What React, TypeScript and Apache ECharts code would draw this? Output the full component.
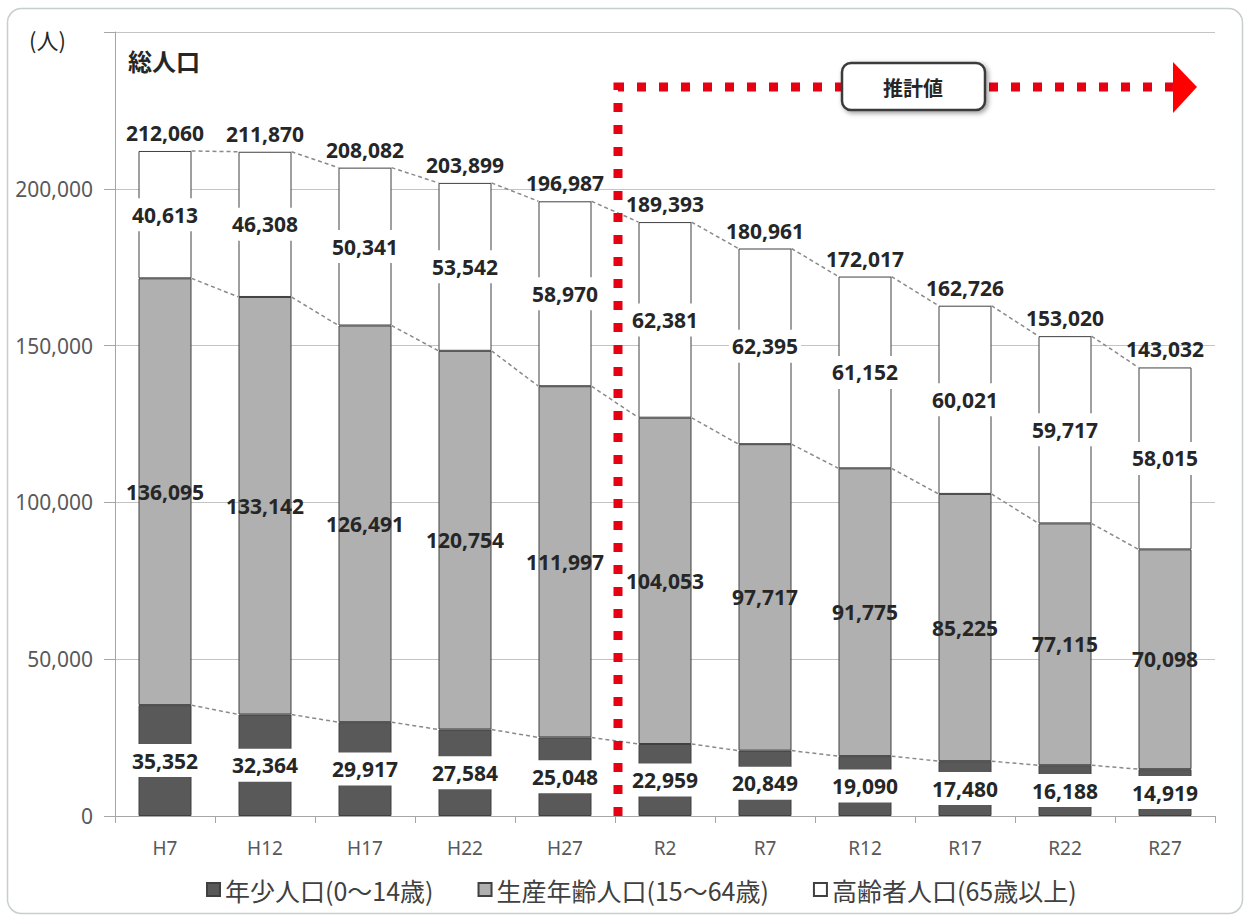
import React, { useEffect, useRef } from "react";
import * as echarts from "echarts";

const categories = ["H7", "H12", "H17", "H22", "H27", "R2", "R7", "R12", "R17", "R22", "R27"];
const young = [35352, 32364, 29917, 27584, 25048, 22959, 20849, 19090, 17480, 16188, 14919];
const working = [136095, 133142, 126491, 120754, 111997, 104053, 97717, 91775, 85225, 77115, 70098];
const elderly = [40613, 46308, 50341, 53542, 58970, 62381, 62395, 61152, 60021, 59717, 58015];
const totals = [212060, 211870, 208082, 203899, 196987, 189393, 180961, 172017, 162726, 153020, 143032];
const seriesNames = ["年少人口(0～14歳)", "生産年齢人口(15～64歳)", "高齢者人口(65歳以上)"];
const yTicks = { min: 0, max: 250000, interval: 50000, lastShown: 200000 };

const FONT = "'Noto Sans', 'Noto Sans CJK JP', sans-serif";
const CJK = "'Noto Sans CJK JP', 'Noto Sans', sans-serif";
const fmt = (v: number) => v.toLocaleString("en-US");

export default function App() {
  const ref = useRef<HTMLDivElement>(null);
  useEffect(() => {
    document.body.style.margin = "0";
    if (!ref.current) return;
    const chart = echarts.init(ref.current, null, { renderer: "svg" });

    const lvl1 = young.map((v) => v);
    const lvl2 = young.map((v, i) => v + working[i]);
    const lvl3 = young.map((v, i) => v + working[i] + elderly[i]);
    const connectorData = categories.slice(0, -1).map((_, i) => [
      i, lvl1[i], lvl2[i], lvl3[i], lvl1[i + 1], lvl2[i + 1], lvl3[i + 1],
    ]);
    const totalData = categories.map((_, i) => [i, lvl3[i], totals[i]]);

    const barLabel = (bg: string | undefined) => ({
      show: true,
      position: "inside",
      formatter: (p: any) => fmt(p.value),
      fontFamily: FONT,
      fontSize: 21,
      fontWeight: "bold",
      color: "#262626",
      backgroundColor: bg,
      padding: bg ? [6, 3] : 0,
    });

    const barBase = {
      type: "bar",
      stack: "pop",
      barWidth: 53,
      z: 2,
    };

    chart.setOption({
      animation: false,
      grid: { left: 115, right: 35, top: 32, bottom: 103, containLabel: false },
      legend: {
        data: seriesNames,
        left: 201,
        top: 872,
        icon: "rect",
        itemWidth: 13,
        itemHeight: 13,
        itemGap: 44,
        textStyle: { fontFamily: CJK, fontSize: 25, color: "#404040" },
      },
      xAxis: {
        type: "category",
        data: categories,
        boundaryGap: true,
        axisLine: { show: true, lineStyle: { color: "#a6a6a6", width: 1 } },
        axisTick: { show: true, length: 7, interval: 0, lineStyle: { color: "#a6a6a6" } },
        axisLabel: { fontFamily: FONT, fontSize: 19, color: "#595959", margin: 22 },
      },
      yAxis: {
        type: "value",
        min: yTicks.min,
        max: yTicks.max,
        interval: yTicks.interval,
        axisLine: { show: true, lineStyle: { color: "#a6a6a6", width: 1 } },
        axisTick: { show: true, length: 11, lineStyle: { color: "#a6a6a6" } },
        axisLabel: {
          fontFamily: FONT,
          fontSize: 21,
          color: "#595959",
          margin: 22,
          formatter: (v: number) => (v > yTicks.lastShown ? "" : fmt(v)),
        },
        splitLine: { show: true, lineStyle: { color: "#c4c4c4", width: 1 } },
      },
      series: [
        {
          ...barBase,
          name: seriesNames[0],
          data: young,
          itemStyle: { color: "#595959", borderColor: "#404040", borderWidth: 1 },
          label: barLabel("#ffffff"),
        },
        {
          ...barBase,
          name: seriesNames[1],
          data: working,
          itemStyle: { color: "#b0b0b0", borderColor: "#404040", borderWidth: 1 },
          label: barLabel(undefined),
        },
        {
          ...barBase,
          name: seriesNames[2],
          data: elderly,
          itemStyle: { color: "#ffffff", borderColor: "#404040", borderWidth: 1 },
          label: barLabel("#ffffff"),
        },
        {
          type: "custom",
          name: "connectors",
          z: 3,
          silent: true,
          encode: { x: 0, y: 1 },
          data: connectorData,
          renderItem: (params: any, api: any) => {
            const i = api.value(0);
            const half = 26.5;
            const children = [1, 2, 3].map((k) => {
              const p = api.coord([i, api.value(k)]);
              const q = api.coord([i + 1, api.value(k + 3)]);
              return {
                type: "line",
                shape: { x1: p[0] + half, y1: p[1], x2: q[0] - half, y2: q[1] },
                style: { stroke: "#8a8a8a", lineWidth: 1.5, lineDash: [4, 3] },
              };
            });
            return { type: "group", children };
          },
        },
        {
          type: "scatter",
          name: "totals",
          z: 5,
          silent: true,
          symbolSize: 1,
          itemStyle: { color: "rgba(0,0,0,0)", opacity: 1 },
          encode: { x: 0, y: 1 },
          data: totalData,
          label: {
            show: true,
            position: "top",
            distance: 7,
            formatter: (p: any) => fmt(p.value[2]),
            fontFamily: FONT,
            fontSize: 21,
            fontWeight: "bold",
            color: "#262626",
            opacity: 1,
          },
        },
      ],
      graphic: [
        {
          type: "rect",
          z: -10,
          silent: true,
          shape: { x: 7.5, y: 8.5, width: 1235, height: 905, r: 14 },
          style: { fill: "none", stroke: "#c8cdd0", lineWidth: 1.5 },
        },
        {
          type: "text",
          z: 100,
          left: 29,
          top: 28,
          style: { text: "(人)", font: `22px ${CJK}`, fill: "#262626" },
        },
        {
          type: "text",
          z: 100,
          left: 128,
          top: 48,
          style: { text: "総人口", font: `bold 24px ${CJK}`, fill: "#262626" },
        },
        {
          type: "polyline",
          z: 100,
          silent: true,
          shape: { points: [[618, 816], [618, 87], [1176, 87]] },
          style: { stroke: "#e60012", lineWidth: 9, lineDash: [9, 13], fill: "none" },
        },
        {
          type: "polygon",
          z: 100,
          silent: true,
          shape: { points: [[1173, 62], [1197, 87], [1173, 113]] },
          style: { fill: "#ff0000" },
        },
        {
          type: "rect",
          z: 101,
          silent: true,
          shape: { x: 842, y: 63, width: 143, height: 47, r: 9 },
          style: {
            fill: "#ffffff",
            stroke: "#3a3a3a",
            lineWidth: 2.5,
            shadowBlur: 5,
            shadowOffsetX: 2,
            shadowOffsetY: 2,
            shadowColor: "rgba(0,0,0,0.4)",
          },
        },
        {
          type: "text",
          z: 102,
          x: 913,
          y: 87,
          style: {
            text: "推計値",
            font: `bold 20px ${CJK}`,
            fill: "#262626",
            align: "center",
            verticalAlign: "middle",
          },
        },
      ],
    });
    return () => chart.dispose();
  }, []);
  return <div ref={ref} style={{ width: 1250, height: 919 }} />;
}
